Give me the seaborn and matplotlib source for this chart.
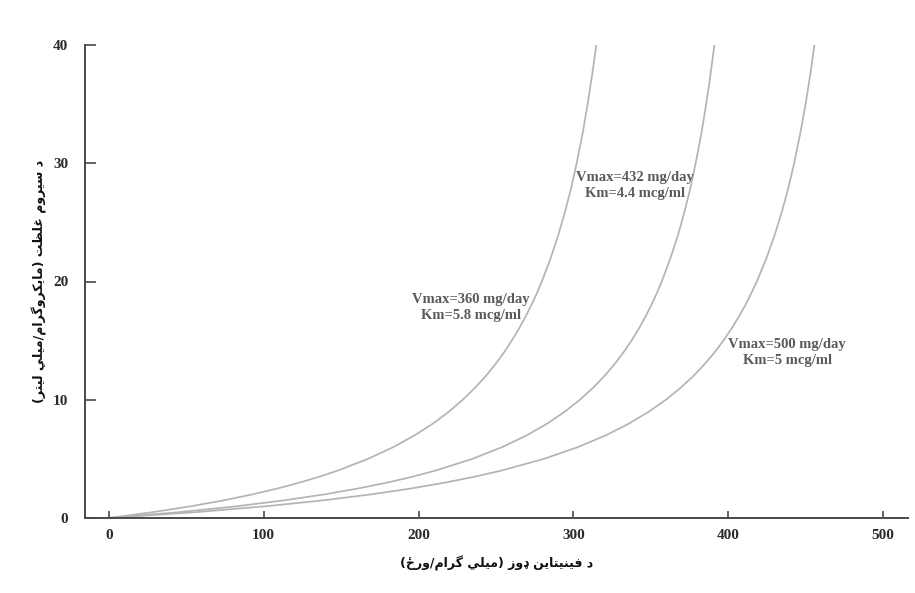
import numpy as np
import pandas as pd
import matplotlib
matplotlib.use("Agg")
import matplotlib.pyplot as plt
from matplotlib.ticker import MultipleLocator
import seaborn as sns

# Serum concentration levels (mcg/ml) and the daily phenytoin dose (mg/day)
# at which each curve reaches that level.
conc_levels = [0, 0.5, 1, 1.5, 2, 2.5, 3, 3.5, 4, 5, 6, 7, 8, 9, 10, 11, 12, 13, 14, 15,
               16, 17, 18, 19, 20, 22, 24, 26, 28, 30, 32.5, 35, 37.5, 40]
dose_vmax360 = [0, 28.8, 53.3, 74.5, 92.9, 109.1, 123.4, 136.2, 147.7, 167.4, 183.8, 197.6,
                209.5, 219.7, 228.6, 236.4, 243.4, 249.6, 255.2, 260.2, 264.8, 269.0, 272.8,
                276.4, 279.6, 285.4, 290.4, 294.8, 298.7, 302.1, 305.9, 309.2, 312.1, 314.8]
dose_vmax432 = [0, 46.0, 83.1, 113.7, 139.4, 161.2, 180.0, 196.4, 210.7, 234.8, 254.1, 270.0,
                283.3, 294.5, 304.2, 312.6, 320.0, 326.5, 332.3, 337.5, 342.2, 346.4, 350.3,
                353.8, 357.0, 362.7, 367.7, 371.9, 375.7, 378.9, 382.6, 385.7, 388.5, 391.0]
dose_vmax500 = [0, 56.8, 102.0, 138.9, 169.5, 195.3, 217.4, 236.5, 253.2, 280.9, 303.0, 321.1,
                336.1, 348.8, 359.7, 369.1, 377.4, 384.6, 391.1, 396.8, 402.0, 406.7, 411.0,
                414.8, 418.4, 424.7, 430.1, 434.8, 438.9, 442.5, 446.4, 449.9, 452.9, 455.6]

curve_labels = ["Vmax=360 mg/day\nKm=5.8 mcg/ml",
                "Vmax=432 mg/day\nKm=4.4 mcg/ml",
                "Vmax=500 mg/day\nKm=5 mcg/ml"]
label_pos = [(234, 17.8), (340, 28.1), (438, 14.0)]

x_ticks = [0, 100, 200, 300, 400, 500]
y_ticks = [0, 10, 20, 30, 40]

x_title = "د فينيتاين ډوز (ميلي گرام/ورځ)"
y_title = "د سيروم غلظت (مايكروگرام/ميلي ليتر)"

# --- minimal Arabic-script shaping (contextual forms + right-to-left order) ---
FORMS = {
    'ا': ('\uFE8D', '\uFE8E', None, None),
    'ب': ('\uFE8F', '\uFE90', '\uFE91', '\uFE92'),
    'ت': ('\uFE95', '\uFE96', '\uFE97', '\uFE98'),
    'خ': ('\uFEA5', '\uFEA6', '\uFEA7', '\uFEA8'),
    'د': ('\uFEA9', '\uFEAA', None, None),
    'ر': ('\uFEAD', '\uFEAE', None, None),
    'ز': ('\uFEAF', '\uFEB0', None, None),
    'س': ('\uFEB1', '\uFEB2', '\uFEB3', '\uFEB4'),
    'ظ': ('\uFEC5', '\uFEC6', '\uFEC7', '\uFEC8'),
    'غ': ('\uFECD', '\uFECE', '\uFECF', '\uFED0'),
    'ف': ('\uFED1', '\uFED2', '\uFED3', '\uFED4'),
    'ك': ('\uFED9', '\uFEDA', '\uFEDB', '\uFEDC'),
    'ل': ('\uFEDD', '\uFEDE', '\uFEDF', '\uFEE0'),
    'م': ('\uFEE1', '\uFEE2', '\uFEE3', '\uFEE4'),
    'ن': ('\uFEE5', '\uFEE6', '\uFEE7', '\uFEE8'),
    'و': ('\uFEED', '\uFEEE', None, None),
    'ي': ('\uFEF1', '\uFEF2', '\uFEF3', '\uFEF4'),
    'گ': ('\uFB92', '\uFB93', '\uFB94', '\uFB95'),
}
MIRROR = {'(': ')', ')': '('}


def shape_rtl(text):
    out = []
    n = len(text)
    for i, ch in enumerate(text):
        if ch not in FORMS:
            out.append(ch)
            continue
        prev = text[i - 1] if i > 0 else ''
        nxt = text[i + 1] if i < n - 1 else ''
        joins_prev = prev in FORMS and FORMS[prev][2] is not None
        joins_next = FORMS[ch][2] is not None and nxt in FORMS
        iso, fin, ini, med = FORMS[ch]
        if joins_prev and joins_next:
            out.append(med)
        elif joins_prev:
            out.append(fin)
        elif joins_next:
            out.append(ini)
        else:
            out.append(iso)
    return ''.join(MIRROR.get(c, c) for c in reversed(out))


df = pd.concat([
    pd.DataFrame({"dose": d, "conc": conc_levels, "curve": lab})
    for d, lab in zip([dose_vmax360, dose_vmax432, dose_vmax500], curve_labels)
], ignore_index=True)

sns.set_theme(style="white")
plt.rcParams['font.family'] = ['Liberation Serif', 'DejaVu Sans']

fig = plt.figure(figsize=(9.15, 5.93), dpi=100)
ax = fig.add_axes([85 / 915, 75 / 593, 823 / 915, 473 / 593])

sns.lineplot(data=df, x="dose", y="conc", hue="curve", estimator=None, sort=False,
             palette=["#b4b4b4"] * 3, linewidth=1.25, legend=False, ax=ax)
for line in ax.get_lines():
    line.set_solid_joinstyle("round")

ax.set_xlim(-15.3, 516)
ax.set_ylim(0, 40)
ax.set_xticks(x_ticks)
ax.set_yticks(y_ticks)
ax.xaxis.set_minor_locator(MultipleLocator(10))

for side in ("top", "right"):
    ax.spines[side].set_visible(False)
for side in ("left", "bottom"):
    ax.spines[side].set_color("#4a4a4a")
    ax.spines[side].set_linewidth(1.4)

ax.tick_params(axis="x", which="major", direction="in", length=5, width=1.2,
               color="#4a4a4a", pad=8, labelsize=11, labelcolor="#2a2a2a")
ax.tick_params(axis="x", which="minor", direction="in", length=2.5, width=1.0,
               color="#4a4a4a")
ax.tick_params(axis="y", which="major", direction="in", length=8, width=1.2,
               color="#4a4a4a", pad=12, labelsize=11, labelcolor="#2a2a2a")
ax.tick_params(left=True, bottom=True)
for lab in ax.get_xticklabels() + ax.get_yticklabels():
    lab.set_fontweight("bold")

for (x, y), text in zip(label_pos, curve_labels):
    ax.text(x, y, text, ha="center", va="center", fontsize=10.5, fontweight="bold",
            color="#5a5a5a", linespacing=1.3, family="Liberation Serif")

ax.set_xlabel(shape_rtl(x_title), family="DejaVu Sans", fontweight="bold",
              fontsize=9, color="#111111", labelpad=10)
ax.set_ylabel(shape_rtl(y_title), family="DejaVu Sans", fontweight="bold",
              fontsize=9, color="#111111", labelpad=4)

fig.savefig("out.png", dpi=100, facecolor="white")
